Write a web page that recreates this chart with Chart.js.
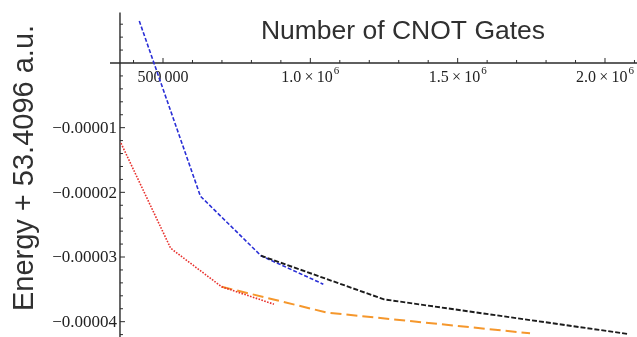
<!DOCTYPE html>
<html>
<head>
<meta charset="utf-8">
<script src="https://cdn.jsdelivr.net/npm/chart.js@4.4.1/dist/chart.umd.min.js"></script>
<style>
  html, body { margin: 0; padding: 0; background: #fff; }
  #wrap { width: 637px; height: 337px; }
</style>
</head>
<body>
<div id="wrap"><canvas id="chart" width="637" height="337"></canvas></div>
<script>
/* energy vs CNOT count, Mathematica-style axes */

// series (x = CNOT gates, y = energy + 53.4096 a.u.)
const blueX = [419500, 627000, 832500, 1044000];
const blueY = [6.5e-6, -2.06e-5, -2.98e-5, -3.42e-5];

const redX = [357400, 526000, 699000, 876500];
const redY = [-1.24e-5, -2.865e-5, -3.46e-5, -3.73e-5];

const orangeX = [699000, 1056500, 1745500];
const orangeY = [-3.46e-5, -3.86e-5, -4.18e-5];

const blackX = [832500, 1250000, 2078000];
const blackY = [-2.98e-5, -3.655e-5, -4.19e-5];

// axes
const xMajorTicks = [500000, 1000000, 1500000, 2000000];
const xTickLabels = ['500\u2009000', '1.0\u2009\u00d7\u200910^6', '1.5\u2009\u00d7\u200910^6', '2.0\u2009\u00d7\u200910^6'];
const xMinorTicks = [400000, 600000, 700000, 800000, 900000, 1100000, 1200000, 1300000, 1400000,
  1600000, 1700000, 1800000, 1900000, 2100000];
const yMajorTicks = [-0.00001, -0.00002, -0.00003, -0.00004];
const yTickLabels = ['\u22120.00001', '\u22120.00002', '\u22120.00003', '\u22120.00004'];
const yMinorTicks = [6e-6, 4e-6, 2e-6, -2e-6, -4e-6, -6e-6, -8e-6, -1.2e-5, -1.4e-5, -1.6e-5, -1.8e-5,
  -2.2e-5, -2.4e-5, -2.6e-5, -2.8e-5, -3.2e-5, -3.4e-5, -3.6e-5, -3.8e-5, -4.2e-5];

const xTitle = 'Number of CNOT Gates';
const yTitle = 'Energy + 53.4096 a.u.';

const yAxisAt = 354000;     // where the vertical axis crosses
const xAxisFrom = 320000;
const yAxisTop = 7.8e-6;

function pts(xs, ys) {
  return xs.map((v, i) => ({ x: v, y: ys[i] }));
}

const serif = '"Liberation Serif", "DejaVu Serif", serif';
const sans = '"Liberation Sans", Arial, sans-serif';

const axesPlugin = {
  id: 'mmaAxes',
  beforeDatasetsDraw(chart) {
    const { ctx, scales: { x, y } } = chart;
    const x0 = x.getPixelForValue(yAxisAt);
    const y0 = y.getPixelForValue(0);
    ctx.save();
    ctx.strokeStyle = '#2b2b2b';

    ctx.lineWidth = 1.4;
    ctx.beginPath();
    ctx.moveTo(x.getPixelForValue(xAxisFrom), y0);
    ctx.lineTo(chart.width, y0);
    ctx.moveTo(x0, y.getPixelForValue(yAxisTop));
    ctx.lineTo(x0, chart.height);
    ctx.stroke();

    ctx.lineWidth = 1;
    ctx.beginPath();
    xMinorTicks.forEach(v => {
      const px = x.getPixelForValue(v);
      ctx.moveTo(px, y0);
      ctx.lineTo(px, y0 - 3);
    });
    xMajorTicks.forEach(v => {
      const px = x.getPixelForValue(v);
      ctx.moveTo(px, y0);
      ctx.lineTo(px, y0 - 5);
    });
    yMinorTicks.forEach(v => {
      const py = y.getPixelForValue(v);
      ctx.moveTo(x0, py);
      ctx.lineTo(x0 + 3, py);
    });
    yMajorTicks.forEach(v => {
      const py = y.getPixelForValue(v);
      ctx.moveTo(x0, py);
      ctx.lineTo(x0 + 5, py);
    });
    ctx.stroke();

    // tick labels
    ctx.fillStyle = '#222';
    ctx.textBaseline = 'alphabetic';
    xMajorTicks.forEach((v, i) => {
      const px = x.getPixelForValue(v);
      const [base, sup] = xTickLabels[i].split('^');
      ctx.font = '16px ' + serif;
      const wb = ctx.measureText(base).width;
      let ws = 0;
      if (sup) {
        ctx.font = '11px ' + serif;
        ws = ctx.measureText(sup).width + 1;
      }
      const left = px - (wb + ws) / 2;
      ctx.font = '16px ' + serif;
      ctx.textAlign = 'left';
      ctx.fillText(base, left, y0 + 19);
      if (sup) {
        ctx.font = '11px ' + serif;
        ctx.fillText(sup, left + wb + 1, y0 + 11);
      }
    });

    ctx.font = '17px ' + serif;
    ctx.textAlign = 'right';
    ctx.textBaseline = 'middle';
    yMajorTicks.forEach((v, i) => {
      ctx.fillText(yTickLabels[i], x0 - 3, y.getPixelForValue(v) + 1);
    });

    // axis titles
    ctx.fillStyle = '#303030';
    ctx.font = '26.5px ' + sans;
    ctx.textAlign = 'center';
    ctx.textBaseline = 'alphabetic';
    ctx.fillText(xTitle, 403, 39);

    ctx.font = '29px ' + sans;
    ctx.translate(33, 168);
    ctx.rotate(-Math.PI / 2);
    ctx.fillText(yTitle, 0, 0);
    ctx.restore();
  }
};

new Chart(document.getElementById('chart'), {
  type: 'line',
  data: {
    datasets: [
      {
        data: pts(redX, redY),
        borderColor: '#e8322e',
        borderWidth: 1.6,
        borderDash: [1.6, 1.4]
      },
      {
        data: pts(orangeX, orangeY),
        borderColor: '#f5972c',
        borderWidth: 2,
        borderDash: [11, 5]
      },
      {
        data: pts(blackX, blackY),
        borderColor: '#1c1c1c',
        borderWidth: 1.9,
        borderDash: [5, 2]
      },
      {
        data: pts(blueX, blueY),
        borderColor: '#2a2fd6',
        borderWidth: 1.6,
        borderDash: [4, 2]
      }
    ]
  },
  options: {
    responsive: false,
    animation: false,
    devicePixelRatio: 1,
    layout: { padding: 0 },
    elements: { point: { radius: 0 }, line: { tension: 0 } },
    plugins: { legend: { display: false }, tooltip: { enabled: false } },
    scales: {
      x: { type: 'linear', min: -53200, max: 2108600, display: false },
      y: { type: 'linear', min: -4.237e-5, max: 9.742e-6, display: false }
    }
  },
  plugins: [axesPlugin]
});
</script>
</body>
</html>
